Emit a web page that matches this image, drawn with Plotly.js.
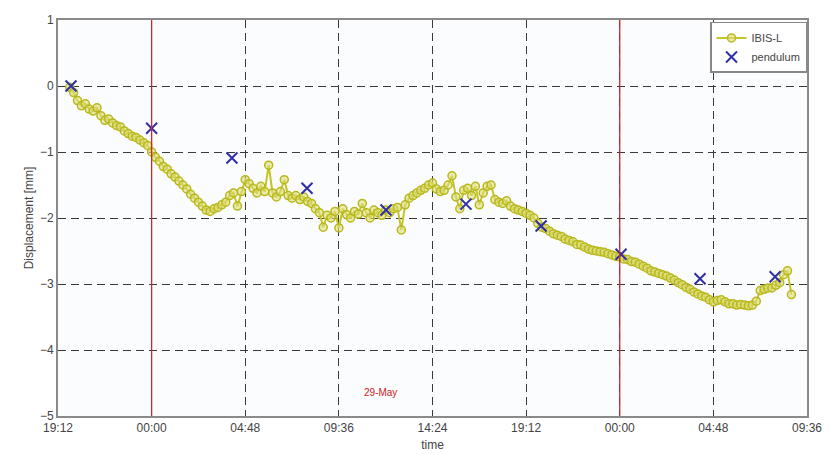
<!DOCTYPE html>
<html>
<head>
<meta charset="utf-8">
<script src="https://cdn.plot.ly/plotly-3.0.1.min.js"></script>
<style>
  html, body { margin: 0; padding: 0; background: #ffffff; }
  #chart { width: 835px; height: 454px; }
</style>
</head>
<body>
<div id="chart"></div>
<script>
// ---- data ----
const ibisStart = '2013-05-28 19:48';
const ibisStepMinutes = 12;
const ibisValues = [
  -0.02, -0.10, -0.22, -0.30, -0.27, -0.35, -0.38, -0.33, -0.45, -0.52,
  -0.50, -0.56, -0.60, -0.62, -0.68, -0.72, -0.76, -0.78, -0.82, -0.86,
  -0.90, -1.00, -1.08, -1.14, -1.22, -1.26, -1.33, -1.38, -1.44, -1.50,
  -1.56, -1.64, -1.70, -1.76, -1.82, -1.88, -1.90, -1.86, -1.84, -1.80,
  -1.76, -1.66, -1.62, -1.82, -1.60, -1.42, -1.48, -1.55, -1.62, -1.52,
  -1.60, -1.20, -1.62, -1.68, -1.60, -1.42, -1.66, -1.70, -1.66, -1.72,
  -1.68, -1.75, -1.78, -1.86, -1.92, -2.14, -1.96, -2.00, -1.90, -2.15,
  -1.86, -1.95, -2.00, -1.90, -1.94, -1.78, -1.92, -2.00, -1.88, -1.92,
  -1.96, -1.88, -1.92, -1.86, -1.84, -2.18, -1.80, -1.70, -1.66, -1.62,
  -1.58, -1.55, -1.50, -1.47, -1.56, -1.60, -1.58, -1.50, -1.36, -1.68,
  -1.86, -1.58, -1.55, -1.66, -1.52, -1.80, -1.62, -1.52, -1.50, -1.72,
  -1.76, -1.78, -1.74, -1.82, -1.86, -1.88, -1.90, -1.93, -1.96, -2.00,
  -2.08, -2.14, -2.16, -2.20, -2.24, -2.26, -2.28, -2.32, -2.34, -2.36,
  -2.40, -2.41, -2.44, -2.47, -2.49, -2.50, -2.51, -2.52, -2.54, -2.56,
  -2.58, -2.59, -2.62, -2.63, -2.66, -2.67, -2.70, -2.73, -2.76, -2.80,
  -2.82, -2.84, -2.86, -2.88, -2.91, -2.94, -2.98, -3.01, -3.05, -3.08,
  -3.12, -3.15, -3.18, -3.20, -3.24, -3.27, -3.25, -3.24, -3.27, -3.30,
  -3.30, -3.32, -3.31, -3.32, -3.33, -3.32, -3.26, -3.10, -3.08, -3.06,
  -3.06, -3.02, -2.98, -2.86, -2.80, -3.16
];

const pendulumTimes = [
  '2013-05-28 19:52', '2013-05-29 00:00', '2013-05-29 04:07', '2013-05-29 07:58',
  '2013-05-29 12:01', '2013-05-29 16:07', '2013-05-29 19:58', '2013-05-30 00:04',
  '2013-05-30 04:07', '2013-05-30 07:58'
];
const pendulumValues = [0.00, -0.64, -1.09, -1.55, -1.88, -1.79, -2.12, -2.55, -2.92, -2.89];

const dayBoundaries = ['2013-05-29 00:00', '2013-05-30 00:00'];
const dayLabel = '29-May';
const dayLabelPos = ['2013-05-29 11:45', -4.65];
const xRange = ['2013-05-28 19:12', '2013-05-30 09:36'];
const yRange = [-5, 1];
const yTicks = [-5, -4, -3, -2, -1, 0, 1];

// ---- build times for IBIS-L samples ----
function fmt(d) {
  const p = n => String(n).padStart(2, '0');
  return d.getFullYear() + '-' + p(d.getMonth() + 1) + '-' + p(d.getDate()) + ' ' + p(d.getHours()) + ':' + p(d.getMinutes());
}
const startDate = new Date(ibisStart.replace(' ', 'T') + ':00');
const ibisTimes = ibisValues.map((_, i) => fmt(new Date(startDate.getTime() + i * ibisStepMinutes * 60000)));

const traces = [
  {
    x: ibisTimes, y: ibisValues, name: 'IBIS-L', type: 'scatter', mode: 'lines+markers',
    line: { color: '#c4c428', width: 2 },
    marker: { symbol: 'circle', size: 8, color: 'rgba(222,222,120,0.6)', line: { color: '#b8b81c', width: 1.5 } }
  },
  {
    x: pendulumTimes, y: pendulumValues, name: 'pendulum', type: 'scatter', mode: 'markers',
    marker: { symbol: 'x-thin-open', size: 11, color: '#2f2fa8', line: { color: '#2f2fa8', width: 2 } }
  }
];

const shapes = dayBoundaries.map(d => ({
  type: 'line', xref: 'x', yref: 'paper', x0: d, x1: d, y0: 0, y1: 1,
  line: { color: '#d02828', width: 1.3 }, layer: 'above'
}));

const layout = {
  width: 835, height: 454,
  margin: { l: 58, r: 28, t: 20, b: 38 },
  paper_bgcolor: '#ffffff',
  plot_bgcolor: '#fbfcfd',
  font: { family: 'Liberation Sans, Arial, sans-serif', size: 12, color: '#444' },
  showlegend: true,
  legend: {
    x: 1, xanchor: 'right', y: 0.995, yanchor: 'top',
    bgcolor: '#ffffff', bordercolor: '#888', borderwidth: 1.5,
    font: { size: 11, color: '#444' }, tracegroupgap: 0
  },
  xaxis: {
    type: 'date', range: xRange, tick0: xRange[0], dtick: 4.8 * 3600000,
    tickformat: '%H:%M', ticks: '', showgrid: true, gridcolor: '#3a3a3a', griddash: '8px,5px', gridwidth: 1,
    showline: true, linecolor: '#8a8a8a', linewidth: 2, mirror: true, zeroline: false,
    tickfont: { size: 12, color: '#444' },
    title: { text: 'time', font: { size: 12, color: '#444' }, standoff: 6 }
  },
  yaxis: {
    range: yRange, tickvals: yTicks, ticks: '', showgrid: true, gridcolor: '#3a3a3a', griddash: '8px,5px', gridwidth: 1,
    showline: true, linecolor: '#8a8a8a', linewidth: 2, mirror: true, zeroline: false,
    tickfont: { size: 12, color: '#444' },
    title: { text: 'Displacement [mm]', font: { size: 12, color: '#444' }, standoff: 4 }
  },
  shapes: shapes,
  annotations: [{
    x: dayLabelPos[0], y: dayLabelPos[1], xref: 'x', yref: 'y', text: dayLabel, showarrow: false,
    font: { size: 10, color: '#cc2020' }
  }]
};

Plotly.newPlot('chart', traces, layout, { displayModeBar: false, staticPlot: true });
</script>
</body>
</html>
